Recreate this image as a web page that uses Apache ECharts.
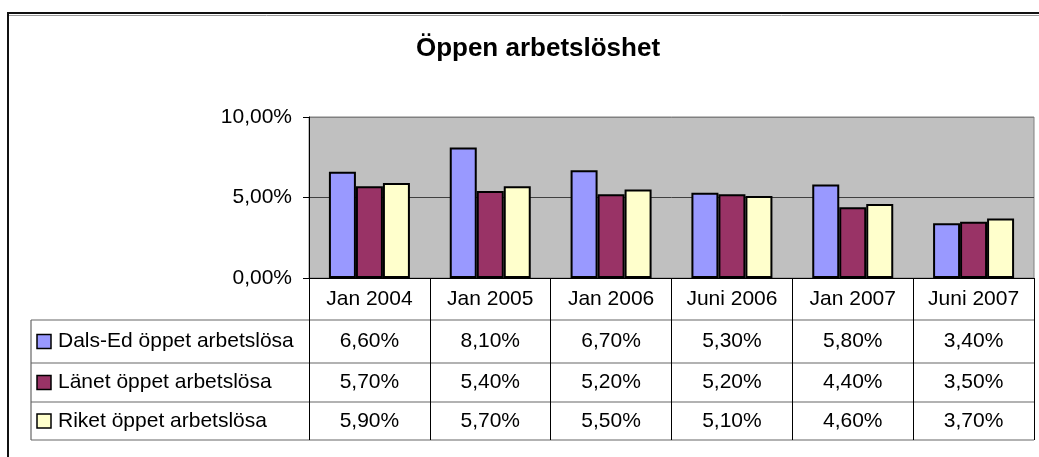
<!DOCTYPE html>
<html>
<head>
<meta charset="utf-8">
<script src="https://cdn.jsdelivr.net/npm/echarts@6/dist/echarts.min.js"></script>
<style>
  html, body { margin: 0; padding: 0; background: #fff; }
  #chart { width: 1039px; height: 457px; }
</style>
</head>
<body>
<div id="chart"></div>
<script>
var categories = ['Jan 2004', 'Jan 2005', 'Jan 2006', 'Juni 2006', 'Jan 2007', 'Juni 2007'];
var seriesNames = ['Dals-Ed öppet arbetslösa', 'Länet öppet arbetslösa', 'Riket öppet arbetslösa'];
var dalsEd = [6.6, 8.1, 6.7, 5.3, 5.8, 3.4];
var lanet = [5.7, 5.4, 5.2, 5.2, 4.4, 3.5];
var riket = [5.9, 5.7, 5.5, 5.1, 4.6, 3.7];
var yTicks = [0, 5, 10];

var seriesData = [dalsEd, lanet, riket];
var colors = ['#9999FF', '#993366', '#FFFFCC'];
var font = 'Liberation Sans, Arial, sans-serif';

function pct(v) {
    return v.toFixed(2).replace('.', ',') + '%';
}

var chart = echarts.init(document.getElementById('chart'));

var option = {
    animation: false,
    backgroundColor: '#fff',
    title: {
        text: 'Öppen arbetslöshet',
        left: 533,
        textAlign: 'center',
        top: 31,
        textStyle: { fontFamily: font, fontSize: 26, fontWeight: 'bold', color: '#000' }
    },
    grid: {
        left: 309, right: 5, top: 117, height: 161,
        show: true,
        backgroundColor: '#C0C0C0',
        borderColor: '#808080',
        borderWidth: 1
    },
    xAxis: {
        type: 'category',
        data: categories,
        axisLine: { lineStyle: { color: '#000', width: 1 } },
        axisTick: { show: true, interval: 0, length: 162, lineStyle: { color: '#000' } },
        axisLabel: { interval: 0, margin: 11, fontFamily: font, fontSize: 21, color: '#000' }
    },
    yAxis: {
        type: 'value',
        min: yTicks[0],
        max: yTicks[yTicks.length - 1],
        interval: yTicks[1] - yTicks[0],
        axisLine: { show: true, lineStyle: { color: '#000' } },
        axisTick: { show: true, length: 6, lineStyle: { color: '#000' } },
        axisLabel: { margin: 17, fontFamily: font, fontSize: 21, color: '#000', formatter: pct },
        splitLine: { show: true, lineStyle: { color: ['#000', '#404040', '#808080'], width: 1 } }
    },
    series: seriesData.map(function (d, i) {
        return {
            name: seriesNames[i],
            type: 'bar',
            data: d,
            barWidth: 27,
            barGap: '0%',
            itemStyle: { color: colors[i], borderColor: '#000', borderWidth: 2 }
        };
    })
};
chart.setOption(option);

// data table under the axis
var rowTops = [320, 363, 402, 440];
var tableLeft = 31;
var tableRight = 1034;
var g = [];

// outer frame (runs off the right and bottom edges)
g.push({ type: 'rect', shape: { x: 8, y: 13, width: 1060, height: 480 },
    style: { fill: null, stroke: '#111', lineWidth: 2 }, silent: true });
g.push({ type: 'line', shape: { x1: 9, y1: 15.5, x2: 1039, y2: 15.5 },
    style: { stroke: '#999', lineWidth: 1 }, silent: true });

rowTops.forEach(function (y) {
    g.push({ type: 'line', shape: { x1: tableLeft, y1: y, x2: tableRight, y2: y },
        style: { stroke: '#666', lineWidth: 1.2 }, silent: true });
});
g.push({ type: 'line', shape: { x1: tableLeft, y1: rowTops[0], x2: tableLeft, y2: rowTops[3] },
    style: { stroke: '#666', lineWidth: 1.2 }, silent: true });

seriesData.forEach(function (d, i) {
    var cy = (rowTops[i] + rowTops[i + 1]) / 2;
    g.push({ type: 'rect', shape: { x: 37, y: cy - 7, width: 14, height: 14 },
        style: { fill: colors[i], stroke: '#000', lineWidth: 1.5 }, silent: true });
    g.push({ type: 'text', x: 58, y: cy,
        style: { text: seriesNames[i], font: '21px ' + font, fill: '#000',
            textAlign: 'left', textVerticalAlign: 'middle' }, silent: true });
    d.forEach(function (v, j) {
        var cx = chart.convertToPixel({ xAxisIndex: 0 }, j);
        g.push({ type: 'text', x: cx, y: cy,
            style: { text: pct(v), font: '21px ' + font, fill: '#000',
                textAlign: 'center', textVerticalAlign: 'middle' }, silent: true });
    });
});

chart.setOption({ graphic: g });
</script>
</body>
</html>
